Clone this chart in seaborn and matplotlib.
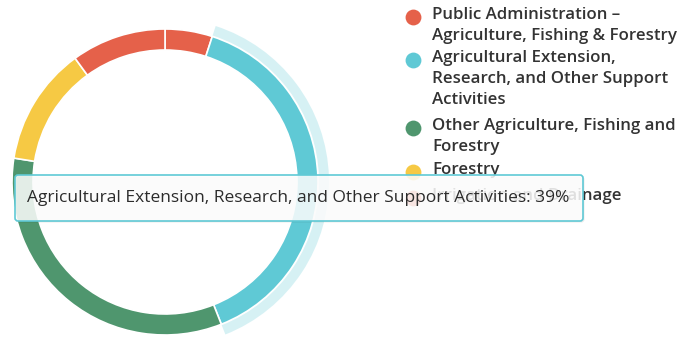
import matplotlib
matplotlib.use("Agg")
import matplotlib.pyplot as plt
from matplotlib.patches import FancyBboxPatch
import seaborn as sns

# Share of activity by sub-sector (percent)
categories = [
    "Public Administration –\nAgriculture, Fishing & Forestry",
    "Agricultural Extension,\nResearch, and Other Support\nActivities",
    "Other Agriculture, Fishing and\nForestry",
    "Forestry",
    "Irrigation and Drainage",
]
tooltip_names = [
    "Public Administration – Agriculture, Fishing & Forestry",
    "Agricultural Extension, Research, and Other Support Activities",
    "Other Agriculture, Fishing and Forestry",
    "Forestry",
    "Irrigation and Drainage",
]
shares = [5, 39, 33.5, 12.5, 10]
colors = ["#E5614A", "#5FC9D5", "#4F966E", "#F6C944", "#E5614A"]
hovered = 1

sns.set_theme(style="white")
plt.rcParams["font.family"] = ["Open Sans", "DejaVu Sans"]

W, H = 682, 338
fig = plt.figure(figsize=(W / 100, H / 100), dpi=100)
ax = fig.add_axes([0, 0, 1, 1])

cx, cy = 165, H - 182
r_out, ring = 153, 21

# main ring
ax.pie(shares, colors=colors, startangle=90, counterclock=False,
       radius=r_out, center=(cx, cy), frame=True,
       wedgeprops=dict(width=ring, edgecolor="white", linewidth=1.2))

# hover halo around the highlighted slice
halo_colors = [c if i == hovered else "none" for i, c in enumerate(colors)]
halo_wedges, _ = ax.pie(shares, colors=halo_colors, startangle=90, counterclock=False,
                        radius=r_out + 11, center=(cx, cy), frame=True,
                        wedgeprops=dict(width=10, linewidth=0))
for i, w in enumerate(halo_wedges):
    w.set_alpha(0.25 if i == hovered else 0)

# legend
legend_y = [17, 60, 128, 172, 198]
mx, tx = 413, 432
for lab, c, yy in zip(categories, colors, legend_y):
    ax.scatter([mx], [H - yy], s=130, color=c, zorder=3, linewidths=0)
    ax.text(tx, H - yy + 10, lab, fontsize=12.2, fontweight="semibold", color="#333333",
            va="top", ha="left", linespacing=1.43, zorder=3)

# tooltip for the hovered slice
bx0, bx1, by0, by1 = 15, 583, 175, 221
shadow = FancyBboxPatch((bx0 + 1.5, H - by1 - 1.5), bx1 - bx0, by1 - by0,
                        boxstyle="round,pad=0,rounding_size=3",
                        facecolor="#000000", alpha=0.08, edgecolor="none", zorder=4)
ax.add_patch(shadow)
box = FancyBboxPatch((bx0, H - by1), bx1 - bx0, by1 - by0,
                     boxstyle="round,pad=0,rounding_size=3",
                     facecolor=(1, 1, 1, 0.85), edgecolor=colors[hovered],
                     linewidth=1.2, zorder=5)
ax.add_patch(box)
ax.text(27, H - 197.5, f"{tooltip_names[hovered]}: {shares[hovered]:.0f}%",
        fontsize=12.5, fontweight="medium", color="#2b2b2b", va="center", ha="left", zorder=6)

ax.set_xlim(0, W)
ax.set_ylim(0, H)
ax.set_aspect("equal")
ax.axis("off")
fig.savefig("out.png", dpi=100, facecolor="white")
